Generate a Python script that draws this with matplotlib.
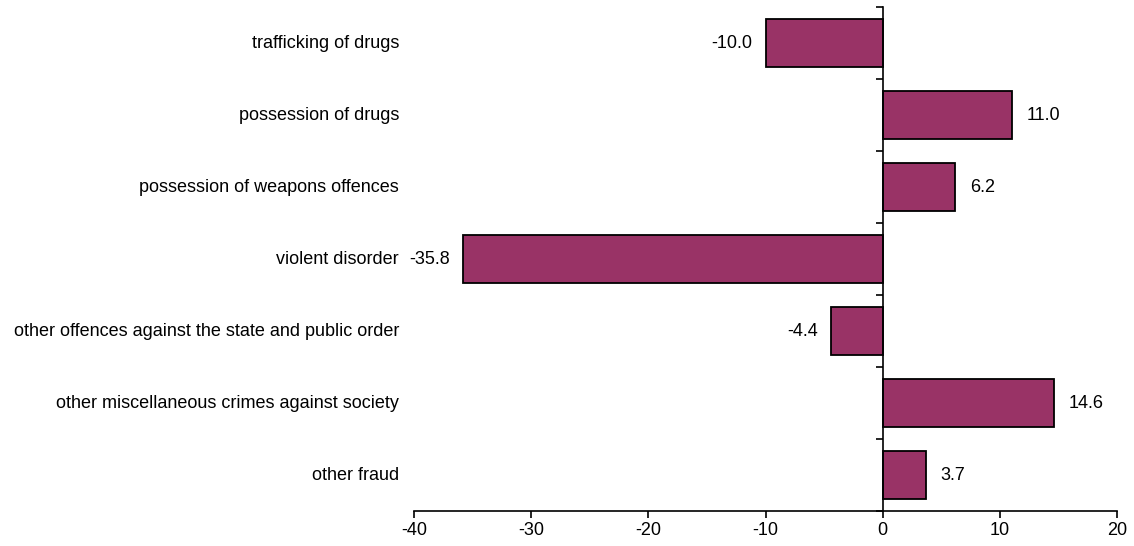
import matplotlib
matplotlib.use("Agg")
import matplotlib.pyplot as plt
import matplotlib.transforms as mtransforms
import numpy as np

plt.rcParams['font.family'] = ['Liberation Sans', 'DejaVu Sans']

# categories top to bottom and % change
categorias = ["trafficking of drugs", "possession of drugs",
              "possession of weapons offences", "violent disorder",
              "other offences against the state and public order",
              "other miscellaneous crimes against society", "other fraud"]
valores = [-10.0, 11.0, 6.2, -35.8, -4.4, 14.6, 3.7]
xticks = [-40, -30, -20, -10, 0, 10, 20]

fig = plt.figure(figsize=(11.34, 5.46), dpi=100)
ax = fig.add_axes([414/1134, 1-511/546, (1117-414)/1134, (511-7)/546])

n = len(categorias)
pos = np.arange(n)[::-1]
ax.barh(pos, valores, height=0.66, color='#993366', edgecolor='black', linewidth=1.3, zorder=2)

ax.set_xlim(-40, 20)
ax.set_ylim(-0.5, n-0.5)
ax.set_xticks(xticks)
ax.set_xticklabels([str(t) for t in xticks], fontsize=13)
ax.tick_params(axis='x', direction='out', length=5, width=1.2, pad=3)

# eixo vertical no zero, com marcas entre categorias
ax.spines['left'].set_position(('data', 0))
ax.spines['left'].set_linewidth(1.2)
ax.spines['bottom'].set_linewidth(1.2)
ax.spines['right'].set_visible(False)
ax.spines['top'].set_visible(False)
ax.set_yticks(np.arange(-0.5, n, 1.0))
ax.set_yticklabels([])
ax.tick_params(axis='y', direction='out', length=5, width=1.2)

trans = mtransforms.blended_transform_factory(ax.transAxes, ax.transData)
for p, c in zip(pos, categorias):
    ax.text(-15/703, p, c, transform=trans, ha='right', va='center', fontsize=13)

for p, v in zip(pos, valores):
    off = 1.25 if v >= 0 else -1.15
    ax.text(v + off, p, f"{v:.1f}", ha='left' if v >= 0 else 'right', va='center', fontsize=13)

fig.savefig("out.png", dpi=100)
